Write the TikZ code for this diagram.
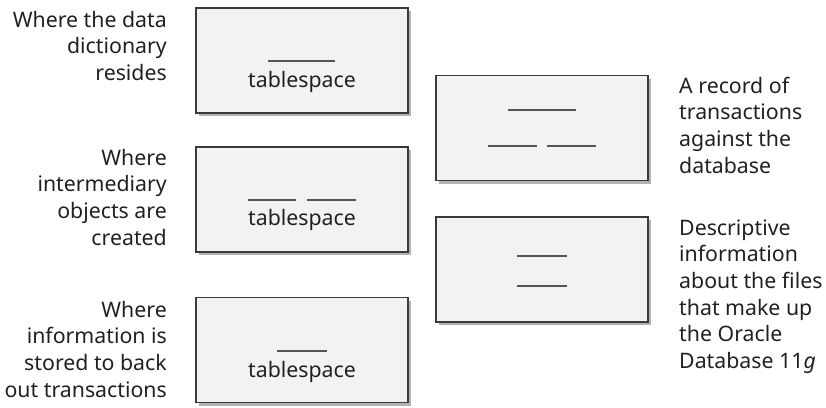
\documentclass[tikz,border=0pt]{standalone}
\usepackage{fontspec}
\setmainfont{Noto Sans}
\usetikzlibrary{calc,shadows}
\definecolor{boxfill}{HTML}{F1F2F4}
\definecolor{boxline}{HTML}{3A3A3A}
\definecolor{blankc}{HTML}{555555}
\definecolor{txt}{HTML}{231F20}
\tikzset{
  box/.style={draw=boxline, line width=1.4pt, fill=boxfill, minimum width=212pt, minimum height=105pt, inner sep=0pt,
    drop shadow={shadow xshift=3pt, shadow yshift=-3pt, fill=black!30, opacity=1}},
  blank/.style={draw=blankc, line width=1.3pt},
  lbl/.style={inner sep=0pt, text=txt, font=\fontsize{21.3}{26.7}\selectfont},
}
\newcommand{\rlines}[1]{\begin{tabular}[t]{@{}r@{}}#1\end{tabular}}
\newcommand{\llines}[1]{\begin{tabular}[t]{@{}l@{}}#1\end{tabular}}
\begin{document}
\begin{tikzpicture}[x=1pt,y=-1pt]
\useasboundingbox (0,0) rectangle (826,407);
% boxes
\node[box] (b1) at (302,60.5) {};
\node[box] (b2) at (302,199.5) {};
\node[box] (b3) at (302,350) {};
\node[box] (r1) at (542,128) {};
\node[box] (r2) at (542,269.5) {};
% blanks
\draw[blank] ($(b1.center)+(-34,0.5)$) -- ($(b1.center)+(33,0.5)$);
\draw[blank] ($(b2.center)+(-54,0.5)$) -- ($(b2.center)+(-6,0.5)$);
\draw[blank] ($(b2.center)+(5,0.5)$) -- ($(b2.center)+(54,0.5)$);
\draw[blank] ($(b3.center)+(-25,1)$) -- ($(b3.center)+(25,1)$);
\draw[blank] ($(r1.center)+(-34,-18)$) -- ($(r1.center)+(34,-18)$);
\draw[blank] ($(r1.center)+(-54,18)$) -- ($(r1.center)+(-5,18)$);
\draw[blank] ($(r1.center)+(5,18)$) -- ($(r1.center)+(54,18)$);
\draw[blank] ($(r2.center)+(-25,-13.5)$) -- ($(r2.center)+(25,-13.5)$);
\draw[blank] ($(r2.center)+(-25,16.5)$) -- ($(r2.center)+(25,16.5)$);
% tablespace labels
\node[lbl, anchor=base] (t1) at (302,87) {tablespace};
\node[lbl, anchor=base] (t2) at (302,225) {tablespace};
\node[lbl, anchor=base] (t3) at (302,377) {tablespace};
% side texts
\node[lbl, anchor=base east] (d1) at (167,27) {\rlines{Where the data\\dictionary\\resides}};
\node[lbl, anchor=base east] (d2) at (167,165) {\rlines{Where\\intermediary\\objects are\\created}};
\node[lbl, anchor=base east] (d3) at (167,317) {\rlines{Where\\information is\\stored to back\\out transactions}};
\node[lbl, anchor=base west] (d4) at (679,93) {\llines{A record of\\transactions\\against the\\database}};
\node[lbl, anchor=base west] (d5) at (679,235) {\llines{Descriptive\\information\\about the files\\that make up\\the Oracle\\Database 11\textit{g}}};
\end{tikzpicture}
\end{document}
